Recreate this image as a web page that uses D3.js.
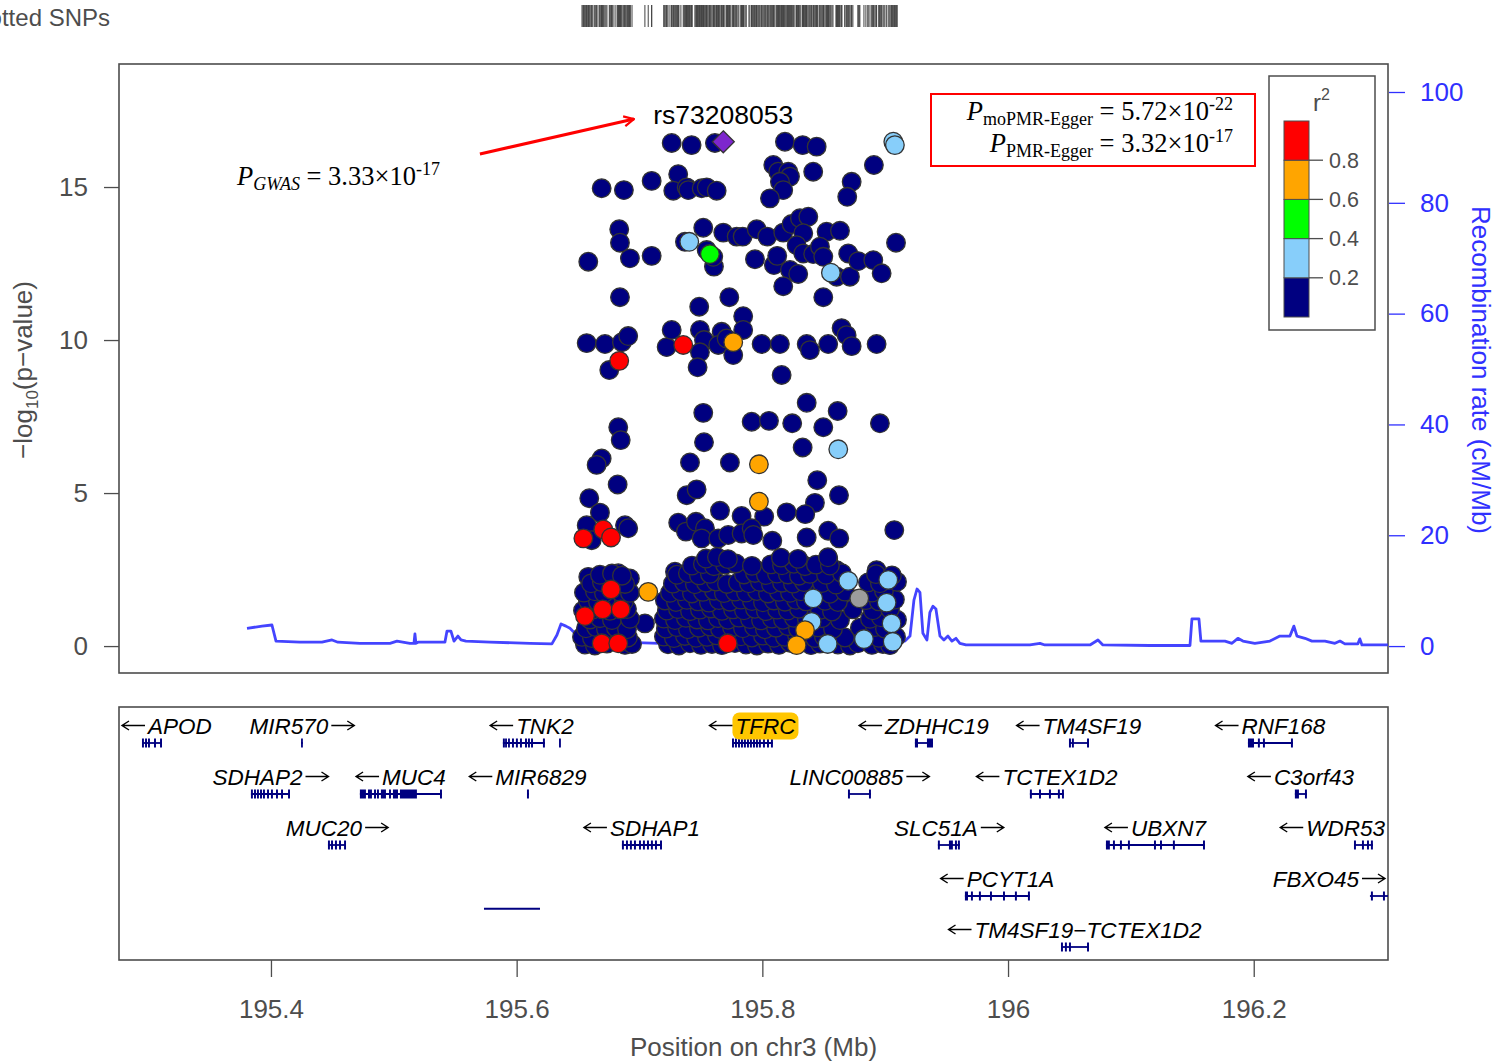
<!DOCTYPE html>
<html>
<head>
<meta charset="utf-8">
<script src="https://cdn.jsdelivr.net/npm/d3@7/dist/d3.min.js"></script>
<style>
  html,body{margin:0;padding:0;background:#fff;}
  svg{display:block;}
  .sans{font-family:"Liberation Sans",Arial,sans-serif;}
  .serif{font-family:"Liberation Serif","Times New Roman",serif;}
</style>
</head>
<body>
<svg id="chart" width="1505" height="1063"></svg>
<script>
// ---------------- data ----------------
const chromName = "chr3";
const leadSnp = {id: "rs73208053", pos: 195.7682, pGwas: 3.33e-17};
const pMoPmrEgger = 5.72e-22;
const pPmrEgger = 3.32e-17;

const yTicks = [0, 5, 10, 15];
const recombTicks = [0, 20, 40, 60, 80, 100];
const xTicks = [195.4, 195.6, 195.8, 196.0, 196.2];
const r2LegendTicks = [0.2, 0.4, 0.6, 0.8];
const r2Colors = ["#000080", "#87CEFA", "#00FF00", "#FFA500", "#FF0000"];
const noR2Color = "#9c9c9c";
const leadColor = "#7D26CD";

// SNPs as [position (Mb), -log10 p], grouped by LD r2 with the lead SNP
const snpsR2Below02Upper = [
  [195.7262,16.44],[195.7424,16.37],[195.7614,16.44],[195.8184,16.48],[195.8328,16.37],[195.8442,16.32],
  [195.8089,15.72],[195.8129,15.50],[195.8211,15.50],[195.8225,15.34],[195.8143,15.17],[195.8170,14.90],
  [195.8062,14.63],[195.8414,15.50],[195.8908,15.72],[195.8727,15.17],[195.8691,14.68],
  [195.6692,14.96],[195.6873,14.90],[195.7099,15.20],[195.7315,15.42],[195.7275,14.88],[195.7384,14.99],
  [195.7397,14.90],[195.7506,14.96],[195.7547,14.99],[195.7628,14.88],
  [195.6835,13.62],[195.6841,13.18],[195.6583,12.56],[195.6922,12.67],[195.7099,12.75],[195.7370,13.21],
  [195.7519,13.67],[195.7547,12.94],[195.7606,12.40],[195.7600,12.72],[195.7682,13.51],[195.7791,13.38],
  [195.7840,13.38],[195.7954,13.62],[195.8040,13.38],[195.7940,12.64],[195.8094,12.45],[195.8121,12.75],
  [195.8170,13.51],[195.8238,13.79],[195.8306,13.98],[195.8374,14.03],[195.8333,13.49],[195.8279,13.10],
  [195.8333,12.83],[195.8414,12.81],[195.8225,12.29],[195.8292,12.16],[195.8170,11.76],[195.8523,13.54],
  [195.8632,13.57],[195.8469,13.05],[195.8496,12.72],[195.8605,12.07],[195.8713,12.07],[195.8699,12.83],
  [195.8781,12.58],[195.8903,12.61],[195.8971,12.18],[195.9088,13.18],
  [195.8496,11.40],[195.6841,11.40],[195.7731,11.40],[195.7486,11.09],[195.7844,10.78],
  [195.6570,9.90],[195.6719,9.87],[195.6857,9.93],[195.6908,10.13],[195.7221,9.77],[195.7262,10.33],
  [195.7492,10.33],[195.7525,10.00],[195.7492,9.60],[195.7669,10.27],[195.7641,9.84],[195.7709,10.05],
  [195.7763,9.51],[195.7844,10.33],[195.7994,9.87],[195.8143,9.87],[195.8361,9.87],[195.8387,9.67],
  [195.8536,9.87],[195.8645,10.39],[195.8686,10.16],[195.8727,9.80],[195.8930,9.87]
];
const snpsR2Below02Middle = [
  [195.6754,9.02],[195.7473,9.11],[195.8157,8.86],[195.8361,7.95],[195.7519,7.62],[195.8613,7.68],
  [195.7913,7.33],[195.8054,7.36],[195.8243,7.28],[195.8496,7.15],[195.8957,7.28],[195.6827,7.15],
  [195.6847,6.73],[195.7525,6.66],[195.8328,6.49],[195.6692,6.13],[195.6651,5.92],[195.7411,6.00],
  [195.7736,6.00],[195.6822,5.28],[195.8447,5.42],[195.6591,4.83],[195.7384,4.93],[195.7465,5.12],
  [195.8624,4.93],[195.8428,4.68],[195.6678,4.36],[195.7655,4.42],[195.7831,4.25],[195.8015,4.23],
  [195.8198,4.37],[195.8349,4.31],[195.6570,3.95],[195.6882,3.95],[195.6908,3.85],[195.6611,3.46],
  [195.7315,4.03],[195.7378,3.74],[195.7460,4.06],[195.7533,3.85],[195.7506,3.52],[195.7641,3.52],
  [195.7722,3.63],[195.7831,3.68],[195.7913,3.85],[195.7926,3.63],[195.8081,3.44],[195.8361,3.55],
  [195.8536,3.77],[195.8626,3.52],[195.9074,3.79],
  [195.6583,2.26],[195.6827,2.38],[195.6922,2.21],[195.7289,2.43],[195.7600,2.75],[195.7682,2.75],
  [195.7763,2.70],[195.7954,2.48],[195.8129,2.75],[195.8333,2.65],[195.8536,2.87],[195.8605,2.48],
  [195.8930,2.48],[195.7044,0.74]
];
const snpsR2Below02Dense = [
  [195.7232,0.06],[195.7321,0.02],[195.7411,0.09],[195.7500,0.04],[195.7590,0.07],[195.7671,0.03],[195.7777,0.10],
  [195.7867,0.05],[195.7956,0.02],[195.8046,0.08],[195.8135,0.04],[195.8225,0.11],[195.8396,0.03],[195.8469,0.08],
  [195.8615,0.05],[195.8713,0.02],[195.8778,0.09],[195.8892,0.04],[195.8982,0.07],[195.9039,0.03],
  [195.7199,0.31],[195.7280,0.26],[195.7370,0.33],[195.7460,0.27],[195.7549,0.30],[195.7630,0.35],[195.7736,0.25],
  [195.7826,0.32],[195.7915,0.28],[195.8005,0.34],[195.8094,0.27],[195.8184,0.30],[195.8282,0.36],[195.8428,0.26],
  [195.8501,0.31],[195.8672,0.28],[195.8860,0.33],[195.8949,0.27],[195.9088,0.30],
  [195.7215,0.57],[195.7305,0.62],[195.7394,0.55],[195.7484,0.60],[195.7573,0.64],[195.7655,0.56],[195.7753,0.61],
  [195.7842,0.58],[195.7932,0.63],[195.8021,0.55],[195.8111,0.60],[195.8208,0.65],[195.8290,0.57],[195.8453,0.61],
  [195.8575,0.56],[195.8794,0.60],[195.8917,0.62],[195.8998,0.57],
  [195.7199,0.90],[195.7289,0.85],[195.7378,0.92],[195.7468,0.87],[195.7557,0.84],[195.7639,0.91],[195.7720,0.86],
  [195.7809,0.93],[195.7899,0.88],[195.7989,0.84],[195.8078,0.90],[195.8168,0.86],[195.8257,0.92],[195.8363,0.87],
  [195.8485,0.91],[195.8632,0.85],[195.8876,0.89],[195.8965,0.94],[195.9096,0.86],
  [195.7223,1.16],[195.7313,1.21],[195.7411,1.14],[195.7492,1.19],[195.7582,1.23],[195.7671,1.15],[195.7761,1.20],
  [195.7850,1.17],[195.7940,1.22],[195.8029,1.14],[195.8119,1.19],[195.8208,1.16],[195.8298,1.22],[195.8469,1.18],
  [195.8567,1.13],[195.8737,1.20],[195.8900,1.17],[195.9039,1.21],
  [195.7207,1.49],[195.7297,1.44],[195.7386,1.51],[195.7476,1.46],[195.7565,1.42],[195.7647,1.50],[195.7736,1.45],
  [195.7826,1.52],[195.7915,1.47],[195.8005,1.43],[195.8094,1.49],[195.8184,1.45],[195.8274,1.51],[195.8355,1.46],
  [195.8510,1.48],[195.8615,1.44],[195.8843,1.50],[195.8949,1.46],[195.9079,1.52],
  [195.7248,1.74],[195.7337,1.79],[195.7427,1.72],[195.7516,1.77],[195.7606,1.81],[195.7687,1.73],[195.7777,1.78],
  [195.7867,1.75],[195.7956,1.80],[195.8046,1.72],[195.8135,1.77],[195.8225,1.74],[195.8314,1.79],[195.8444,1.76],
  [195.8550,1.71],[195.8672,1.78],[195.8892,1.75],[195.8990,1.80],
  [195.7272,2.04],[195.7362,2.09],[195.7451,2.02],[195.7541,2.07],[195.7622,2.11],[195.7712,2.03],[195.7801,2.08],
  [195.7891,2.05],[195.7980,2.10],[195.8070,2.02],[195.8160,2.07],[195.8249,2.04],[195.8339,2.09],[195.8485,2.06],
  [195.8599,2.01],[195.8860,2.08],[195.8957,2.05],[195.9096,2.10],
  [195.7305,2.33],[195.7394,2.38],[195.7484,2.31],[195.7573,2.36],[195.7850,2.34],[195.7940,2.39],[195.8029,2.32],
  [195.8119,2.37],[195.8208,2.34],[195.8298,2.30],[195.8387,2.36],[195.8518,2.33],[195.8648,2.38],[195.8925,2.35],
  [195.9055,2.31],
  [195.7427,2.63],[195.7516,2.68],[195.7606,2.61],[195.7696,2.66],[195.7785,2.70],[195.7915,2.62],[195.8070,2.67],
  [195.8160,2.64],[195.8257,2.69],[195.8347,2.61],[195.8436,2.66],[195.8550,2.63],
  [195.7541,2.86],[195.7630,2.91],[195.7720,2.84],[195.8151,2.89],[195.8290,2.85],[195.8534,2.90],
  [195.6556,0.05],[195.6637,0.02],[195.6735,0.08],[195.6882,0.04],[195.6939,0.07],
  [195.6532,0.30],[195.6613,0.26],[195.6776,0.33],[195.6906,0.28],
  [195.6564,0.58],[195.6646,0.62],[195.6727,0.56],[195.6808,0.60],[195.6898,0.55],
  [195.6597,0.87],[195.6678,0.91],[195.6776,0.85],[195.6922,0.89],
  [195.6540,1.16],[195.6621,1.20],[195.6759,1.15],[195.6898,1.21],
  [195.6580,1.49],[195.6662,1.45],[195.6792,1.51],[195.6873,1.46],
  [195.6548,1.75],[195.6637,1.79],[195.6711,1.73],[195.6841,1.77],[195.6922,1.74],
  [195.6605,2.05],[195.6694,2.09],[195.6882,2.03],
  [195.6678,2.33],[195.6776,2.37],[195.6857,2.30]
];
const snpsNoR2 = [[195.8789,1.56]];
const snpsR2From02 = [
  [195.9066,16.48],[195.9079,16.37],[195.7405,13.21],[195.8558,12.20],[195.8618,6.43],[195.8699,2.13],
  [195.9025,2.16],[195.8414,1.56],[195.9012,1.42],[195.8401,0.79],[195.9052,0.74],[195.8532,0.07],
  [195.8827,0.23],[195.9061,0.14]
];
const snpsR2From04 = [[195.7573,12.81]];
const snpsR2From06 = [[195.7763,9.93],[195.7972,5.94],[195.7972,4.72],[195.7071,1.77],[195.8347,0.52],[195.8279,0.03]];
const snpsR2From08 = [
  [195.7356,9.84],[195.6835,9.32],[195.6705,3.81],[195.6543,3.52],[195.6768,3.55],[195.6768,1.85],
  [195.6556,0.98],[195.6700,1.20],[195.6847,1.20],[195.6692,0.09],[195.6827,0.09],[195.7718,0.09]
];

// recombination rate (cM/Mb) along the region
const recombPos = [195.3805,195.3927,195.4008,195.4041,195.4236,195.4415,195.4497,195.4545,195.4724,195.4969,
  195.5026,195.5131,195.5164,195.5172,195.5180,195.5197,195.5416,195.5433,195.5465,195.5490,195.5522,195.5547,
  195.5587,195.5783,195.6108,195.6287,195.6328,195.6361,195.6401,195.6434,195.6475,195.6515,195.6597,195.6841,
  195.7166,195.7492,195.7980,195.8469,195.8957,195.9161,195.9202,195.9234,195.9259,195.9283,195.9307,195.9340,
  195.9364,195.9389,195.9413,195.9446,195.9478,195.9511,195.9543,195.9576,195.9608,195.9657,195.9934,196.0178,
  196.0260,196.0300,196.0667,196.0732,196.0772,196.1155,196.1481,196.1497,196.1554,196.1570,196.1766,196.1823,
  196.1871,196.1912,196.2009,196.2132,196.2213,196.2295,196.2327,196.2352,196.2417,196.2474,196.2580,196.2661,
  196.2702,196.2742,196.2848,196.2864,196.2881,196.3092];
const recombRate = [3.2,3.6,3.8,0.9,0.7,0.7,1.1,0.7,0.5,0.5,
  0.9,0.5,0.5,2.2,0.5,0.7,0.7,2.7,2.7,0.9,1.8,1.1,
  0.9,0.7,0.5,0.4,2.0,4.0,3.6,3.2,2.3,1.6,0.9,0.7,
  0.5,0.5,0.5,0.5,0.5,0.9,1.8,8.3,10.3,9.7,2.3,1.1,
  6.1,7.2,6.7,1.8,1.1,1.8,0.9,1.4,0.5,0.2,0.2,0.2,
  0.5,0.2,0.2,1.1,0.2,0.1,0.1,4.9,4.9,0.9,0.9,0.5,
  1.4,0.9,0.5,0.9,1.8,1.8,3.6,1.8,1.4,0.9,0.9,0.5,
  0.9,0.4,0.4,1.3,0.2,0.2];

// genes: row, strand, transcript span and exons (Mb)
const genes = [
  {name:"APOD", row:0, strand:-1, start:195.2950, end:195.3113, exons:[[195.2950,195.2966],[195.2975,195.2991],[195.2999,195.3015],[195.3048,195.3064],[195.3097,195.3113]]},
  {name:"MIR570", row:0, strand:1, start:195.4245, end:195.4259, exons:[[195.4245,195.4259]]},
  {name:"TNK2", row:0, strand:-1, start:195.5888, end:195.6230, exons:[[195.5888,195.5904],[195.5906,195.5921],[195.5930,195.5945],[195.5962,195.5978],[195.5994,195.6010],[195.6027,195.6043],[195.6068,195.6084],[195.6092,195.6108],[195.6117,195.6133],[195.6214,195.6230],[195.6345,195.6360]]},
  {name:"TFRC", row:0, strand:-1, start:195.7753, end:195.8086, highlight:true, exons:[[195.7753,195.7769],[195.7777,195.7793],[195.7802,195.7818],[195.7826,195.7842],[195.7850,195.7866],[195.7875,195.7891],[195.7899,195.7915],[195.7924,195.7940],[195.7948,195.7964],[195.7972,195.7988],[195.8005,195.8021],[195.8038,195.8054],[195.8070,195.8086]]},
  {name:"ZDHHC19", row:0, strand:-1, start:195.9242, end:195.9389, exons:[[195.9242,195.9267],[195.9340,195.9389]]},
  {name:"TM4SF19", row:0, strand:-1, start:196.0496, end:196.0659, exons:[[196.0496,196.0512],[196.0520,196.0536],[196.0643,196.0659]]},
  {name:"RNF168", row:0, strand:-1, start:196.1953, end:196.2319, exons:[[196.1953,196.2002],[196.2034,196.2050],[196.2075,196.2091],[196.2303,196.2319]]},
  {name:"SDHAP2", row:1, strand:1, start:195.3837, end:195.4155, exons:[[195.3837,195.3853],[195.3862,195.3878],[195.3886,195.3902],[195.3911,195.3927],[195.3935,195.3951],[195.3968,195.3984],[195.4000,195.4016],[195.4041,195.4057],[195.4082,195.4098],[195.4139,195.4155]]},
  {name:"MUC4", row:1, strand:-1, start:195.4724, end:195.5392, exons:[[195.4724,195.4773],[195.4790,195.4822],[195.4839,195.4855],[195.4863,195.4879],[195.4895,195.4936],[195.4961,195.4977],[195.4993,195.5034],[195.5050,195.5188],[195.5376,195.5392]]},
  {name:"MIR6829", row:1, strand:-1, start:195.6084, end:195.6100, exons:[[195.6084,195.6100]]},
  {name:"LINC00885", row:1, strand:1, start:195.8697, end:195.8884, exons:[[195.8697,195.8713],[195.8868,195.8884]]},
  {name:"TCTEX1D2", row:1, strand:-1, start:196.0178, end:196.0455, exons:[[196.0178,196.0194],[196.0252,196.0268],[196.0333,196.0349],[196.0406,196.0422],[196.0439,196.0455]]},
  {name:"C3orf43", row:1, strand:-1, start:196.2335, end:196.2433, exons:[[196.2335,196.2368],[196.2417,196.2433]]},
  {name:"MUC20", row:2, strand:1, start:195.4464, end:195.4611, exons:[[195.4464,195.4480],[195.4489,195.4505],[195.4521,195.4537],[195.4554,195.4570],[195.4595,195.4611]]},
  {name:"SDHAP1", row:2, strand:-1, start:195.6857, end:195.7183, exons:[[195.6857,195.6873],[195.6890,195.6906],[195.6922,195.6938],[195.6955,195.6971],[195.6996,195.7012],[195.7028,195.7044],[195.7061,195.7077],[195.7093,195.7109],[195.7126,195.7142],[195.7167,195.7183]]},
  {name:"SLC51A", row:2, strand:1, start:195.9429, end:195.9608, exons:[[195.9429,195.9445],[195.9519,195.9551],[195.9568,195.9584],[195.9592,195.9608]]},
  {name:"UBXN7", row:2, strand:-1, start:196.0797, end:196.1603, exons:[[196.0797,196.0829],[196.0854,196.0870],[196.0911,196.0927],[196.0976,196.0992],[196.1188,196.1204],[196.1237,196.1253],[196.1342,196.1358],[196.1587,196.1603]]},
  {name:"WDR53", row:2, strand:-1, start:196.2816, end:196.2970, exons:[[196.2816,196.2832],[196.2881,196.2897],[196.2922,196.2938],[196.2954,196.2970]]},
  {name:"PCYT1A", row:3, strand:-1, start:195.9649, end:196.0178, exons:[[195.9649,195.9674],[195.9698,195.9714],[195.9763,195.9779],[195.9853,195.9869],[195.9959,195.9975],[196.0056,196.0072],[196.0162,196.0178]]},
  {name:"FBXO45", row:3, strand:1, start:196.2946, end:196.3149, exons:[[196.2954,196.2970],[196.3052,196.3068],[196.3133,196.3149]]},
  {name:"", row:3.25, strand:0, start:195.5734, end:195.6190, exons:[]},
  {name:"TM4SF19\u2212TCTEX1D2", row:4, strand:-1, start:196.0431, end:196.0659, exons:[[196.0431,196.0447],[196.0463,196.0479],[196.0496,196.0512],[196.0643,196.0659]]}
];

// ---------------- layout ----------------
const plot = {left:119, right:1388, top:64, bottom:673};
const genePanel = {top:707, bottom:960};
const axisGrey = "#4d4d4d";
const recombBlue = "#3030ff";
const fontSans = "Liberation Sans, Arial, sans-serif";

const svg = d3.select("#chart");
const x = d3.scaleLinear().domain([195.2763, 196.3093]).range([plot.left, plot.right]);
const y = d3.scaleLinear().domain([-0.88, 19.02]).range([plot.bottom, plot.top]);
const yR = d3.scaleLinear().domain([0, 100]).range([y(0), 92]);

const leadLogP = -Math.log10(leadSnp.pGwas);

// ---------- top rug of plotted SNPs ----------
const allSnps = [].concat(snpsR2Below02Upper, snpsR2Below02Middle, snpsR2Below02Dense, snpsNoR2,
  snpsR2From02, snpsR2From04, snpsR2From06, snpsR2From08, [[leadSnp.pos, leadLogP]]);
svg.append("text").attr("class","sans").attr("x",110).attr("y",26).attr("text-anchor","end")
  .attr("font-size",24).attr("fill",axisGrey).text("Plotted SNPs");
svg.append("g").selectAll("line").data(allSnps).join("line")
  .attr("x1", d => x(d[0])).attr("x2", d => x(d[0]))
  .attr("y1", 5).attr("y2", 27).attr("stroke", "#444").attr("stroke-width", 1);

// ---------- main panel ----------
svg.append("rect").attr("x",plot.left).attr("y",plot.top)
  .attr("width",plot.right-plot.left).attr("height",plot.bottom-plot.top)
  .attr("fill","#fff").attr("stroke",axisGrey).attr("stroke-width",1.6);

// left axis
const gy = svg.append("g").attr("class","sans").attr("transform",`translate(${plot.left},0)`)
  .call(d3.axisLeft(y).tickValues(yTicks).tickSize(15).tickPadding(16).tickFormat(d3.format("d")));
gy.select(".domain").remove();
gy.selectAll("line").attr("stroke",axisGrey).attr("stroke-width",1.3);
gy.selectAll("text").attr("font-size",26).attr("fill",axisGrey).attr("font-family",fontSans);

const yLab = svg.append("text").attr("class","sans").attr("font-size",26).attr("fill",axisGrey)
  .attr("text-anchor","middle").attr("transform","translate(32,370) rotate(-90)");
yLab.append("tspan").text("\u2212log");
yLab.append("tspan").attr("font-size",17).attr("dy",6).text("10");
yLab.append("tspan").attr("dy",-6).text("(p\u2212value)");

// right axis (recombination rate)
const gr = svg.append("g").attr("class","sans").attr("transform",`translate(${plot.right+1},0)`)
  .call(d3.axisRight(yR).tickValues(recombTicks).tickSize(16).tickPadding(15));
gr.select(".domain").remove();
gr.selectAll("line").attr("stroke",recombBlue).attr("stroke-width",1.3);
gr.selectAll("text").attr("font-size",26).attr("fill",recombBlue).attr("font-family",fontSans);
svg.append("text").attr("class","sans").attr("font-size",26).attr("fill",recombBlue)
  .attr("text-anchor","middle").attr("transform","translate(1472,370) rotate(90)")
  .text("Recombination rate (cM/Mb)");

// recombination line
svg.append("clipPath").attr("id","plotClip").append("rect")
  .attr("x",plot.left).attr("y",plot.top).attr("width",plot.right-plot.left).attr("height",plot.bottom-plot.top);
svg.append("path").datum(d3.zip(recombPos, recombRate))
  .attr("clip-path","url(#plotClip)")
  .attr("d", d3.line().x(d => x(d[0])).y(d => yR(d[1])))
  .attr("fill","none").attr("stroke",recombBlue).attr("stroke-width",2.8)
  .attr("stroke-opacity",0.9).attr("stroke-linejoin","round");

// SNP points, lowest LD drawn first
const pointGroups = [
  {data: snpsR2Below02Upper.concat(snpsR2Below02Middle, snpsR2Below02Dense), color: r2Colors[0]},
  {data: snpsNoR2, color: noR2Color},
  {data: snpsR2From02, color: r2Colors[1]},
  {data: snpsR2From04, color: r2Colors[2]},
  {data: snpsR2From06, color: r2Colors[3]},
  {data: snpsR2From08, color: r2Colors[4]}
];
const gPts = svg.append("g");
pointGroups.forEach(grp => {
  gPts.append("g").selectAll("circle").data(grp.data).join("circle")
    .attr("cx", d => x(d[0])).attr("cy", d => y(d[1])).attr("r", 9.3)
    .attr("fill", grp.color).attr("stroke", "#333").attr("stroke-width", 1.3);
});
// lead SNP diamond
const lx = x(leadSnp.pos), ly = y(leadLogP), dr = 11;
gPts.append("path").attr("d", `M${lx},${ly-dr}L${lx+dr},${ly}L${lx},${ly+dr}L${lx-dr},${ly}Z`)
  .attr("fill", leadColor).attr("stroke", "#333").attr("stroke-width", 1.3);

// lead SNP label and arrow
svg.append("text").attr("class","sans").attr("x",lx).attr("y",ly-18).attr("text-anchor","middle")
  .attr("font-size",26.5).attr("fill","#000").text(leadSnp.id);
const arrowFrom = [195.5701, 16.08], arrowTo = [195.6955, 17.22];
svg.append("defs").append("marker").attr("id","arrowHead").attr("viewBox","0 0 12 12")
  .attr("refX",11).attr("refY",6).attr("markerWidth",12).attr("markerHeight",12)
  .attr("markerUnits","userSpaceOnUse").attr("orient","auto")
  .append("path").attr("d","M1,1L11,6L1,11").attr("fill","none").attr("stroke","#ff0000").attr("stroke-width",2.2);
svg.append("line").attr("x1",x(arrowFrom[0])).attr("y1",y(arrowFrom[1]))
  .attr("x2",x(arrowTo[0])).attr("y2",y(arrowTo[1]))
  .attr("stroke","#ff0000").attr("stroke-width",3).attr("marker-end","url(#arrowHead)");

// p-value annotations
function sciParts(p) {
  const [m, e] = p.toExponential(2).split("e");
  return [m, String(+e)];
}
function pText(sel, sub, subItalic, p) {
  const [m, e] = sciParts(p);
  sel.append("tspan").attr("font-style","italic").text("P");
  sel.append("tspan").attr("font-size",18).attr("dy",5).attr("font-style",subItalic ? "italic" : "normal").text(sub);
  sel.append("tspan").attr("dy",-5).text(` = ${m}\u00d710`);
  sel.append("tspan").attr("font-size",18).attr("dy",-10).text(e);
}
pText(svg.append("text").attr("class","serif").attr("x",237).attr("y",185).attr("font-size",26.5).attr("fill","#000"),
  "GWAS", true, leadSnp.pGwas);
svg.append("rect").attr("x",931).attr("y",94).attr("width",324).attr("height",72)
  .attr("fill","#fff").attr("stroke","#ff0000").attr("stroke-width",2);
pText(svg.append("text").attr("class","serif").attr("x",1233).attr("y",120).attr("text-anchor","end")
  .attr("font-size",26.5).attr("fill","#000"), "moPMR-Egger", false, pMoPmrEgger);
pText(svg.append("text").attr("class","serif").attr("x",1233).attr("y",152).attr("text-anchor","end")
  .attr("font-size",26.5).attr("fill","#000"), "PMR-Egger", false, pPmrEgger);

// r2 legend
const leg = svg.append("g").attr("class","sans");
leg.append("rect").attr("x",1269).attr("y",76).attr("width",106).attr("height",254)
  .attr("fill","#fff").attr("stroke",axisGrey).attr("stroke-width",1.5);
const legY = d3.scaleLinear().domain([0,1]).range([317,121]);
const legBins = [0,0.2,0.4,0.6,0.8];
leg.selectAll("rect.bin").data(legBins).join("rect").attr("class","bin")
  .attr("x",1284).attr("width",25)
  .attr("y", d => legY(d+0.2)).attr("height", d => legY(d)-legY(d+0.2))
  .attr("fill",(d,i) => r2Colors[i]).attr("stroke",axisGrey).attr("stroke-width",1);
leg.selectAll("line.tick").data(r2LegendTicks).join("line").attr("class","tick")
  .attr("x1",1309).attr("x2",1323).attr("y1",d => legY(d)).attr("y2",d => legY(d))
  .attr("stroke",axisGrey).attr("stroke-width",1.3);
leg.selectAll("text.tl").data(r2LegendTicks).join("text").attr("class","tl")
  .attr("x",1329).attr("y",d => legY(d)+7.5).attr("font-size",21.5).attr("fill",axisGrey)
  .text(d => d3.format(".1f")(d));
const r2t = leg.append("text").attr("x",1313).attr("y",111).attr("font-size",24).attr("fill",axisGrey);
r2t.append("tspan").text("r");
r2t.append("tspan").attr("font-size",16).attr("dy",-11).text("2");

// ---------- gene panel ----------
svg.append("rect").attr("x",plot.left).attr("y",genePanel.top)
  .attr("width",plot.right-plot.left).attr("height",genePanel.bottom-genePanel.top)
  .attr("fill","#fff").attr("stroke",axisGrey).attr("stroke-width",1.6);
svg.append("clipPath").attr("id","geneClip").append("rect")
  .attr("x",plot.left+1).attr("y",genePanel.top).attr("width",plot.right-plot.left-1)
  .attr("height",genePanel.bottom-genePanel.top);
const gGenes = svg.append("g").attr("clip-path","url(#geneClip)");
const geneNavy = "#000080";
const rowStep = 51, labelBase = 733.5, trackBase = 743;
const strandArrowLen = 23, strandGap = 3;

// horizontal strand arrow with an open head, drawn as a path
function strandArrow(x0, x1, yy, dir) {
  const tip = dir < 0 ? x0 : x1, back = dir < 0 ? 7 : -7;
  return `M${x0},${yy}L${x1},${yy}M${tip+back},${yy-4.5}L${tip},${yy}L${tip+back},${yy+4.5}`;
}

genes.forEach(g => {
  const ty = trackBase + rowStep * g.row;
  gGenes.append("line").attr("x1",x(g.start)).attr("x2",x(g.end)).attr("y1",ty).attr("y2",ty)
    .attr("stroke",geneNavy).attr("stroke-width",1.8);
  gGenes.selectAll(null).data(g.exons).join("rect")
    .attr("x", d => x(d[0])).attr("width", d => Math.max(1.8, x(d[1]) - x(d[0])))
    .attr("y", ty - 4.5).attr("height", 9).attr("fill", geneNavy);
  if (!g.name) return;
  const lo = d3.min(g.exons, e => e[0]), hi = d3.max(g.exons, e => e[1]);
  const ly2 = labelBase + rowStep * g.row;
  const lab = svg.append("g").attr("class","sans");
  const nameT = lab.append("text").attr("font-size",22.5).attr("font-style","italic").attr("fill","#000").text(g.name);
  const nw = nameT.node().getComputedTextLength();
  const total = strandArrowLen + strandGap + nw;
  let left = x((lo + hi) / 2) - total / 2;
  left = Math.max(plot.left + 3, Math.min(plot.right - 3 - total, left));
  let nameX, ax0;
  if (g.strand < 0) { ax0 = left; nameX = left + strandArrowLen + strandGap; }
  else { nameX = left; ax0 = left + nw + strandGap; }
  nameT.attr("x", nameX).attr("y", ly2);
  lab.append("path").attr("d", strandArrow(ax0, ax0 + strandArrowLen, ly2 - 8, g.strand))
    .attr("fill","none").attr("stroke","#000").attr("stroke-width",1.4);
  if (g.highlight) {
    lab.insert("rect", ":first-child").attr("x", nameX - 3).attr("y", ly2 - 21)
      .attr("width", nw + 6).attr("height", 27).attr("rx", 7)
      .attr("fill", "#FFC600");
  }
});

// bottom position axis
const gx = svg.append("g").attr("class","sans").attr("transform",`translate(0,${genePanel.bottom})`)
  .call(d3.axisBottom(x).tickValues(xTicks).tickSize(17).tickPadding(23).tickFormat(d3.format("~g")));
gx.select(".domain").remove();
gx.selectAll("line").attr("stroke",axisGrey).attr("stroke-width",1.3);
gx.selectAll("text").attr("font-size",26).attr("fill",axisGrey).attr("font-family",fontSans);
svg.append("text").attr("class","sans").attr("x",(plot.left+plot.right)/2).attr("y",1056)
  .attr("text-anchor","middle").attr("font-size",26).attr("fill",axisGrey)
  .text(`Position on ${chromName} (Mb)`);
</script>
</body>
</html>
